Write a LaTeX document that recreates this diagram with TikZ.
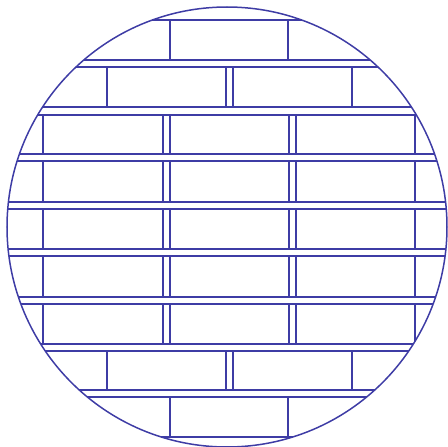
\documentclass[tikz,border=0pt]{standalone}
\begin{document}
\begin{tikzpicture}[x=1pt,y=-1pt,
  brick/.style={draw=bline,line width=1.5pt},
  rim/.style={draw=bline,line width=1.5pt}]
\definecolor{bline}{RGB}{62,60,165}
\useasboundingbox (0,0) rectangle (448,447);
\begin{scope}
\clip (227,227) circle (220);
% horizontal joints
\foreach \y in {20,60,67,107,115,154,161,202,209,249,256,297,304,344,351,390,397,437}
  \draw[brick] (0,\y) -- (448,\y);
% top and bottom rows
\foreach \a/\b in {20/60,397/437}
  \foreach \x in {170,288}
    \draw[brick] (\x,\a) -- (\x,\b);
% second rows
\foreach \a/\b in {67/107,351/390}
  \foreach \x in {107,226,233,352}
    \draw[brick] (\x,\a) -- (\x,\b);
% middle rows
\foreach \a/\b in {115/154,161/202,209/249,256/297,304/344}
  \foreach \x in {43,163,170,289,296,415}
    \draw[brick] (\x,\a) -- (\x,\b);
\end{scope}
\draw[rim] (227,227) circle (220);
\end{tikzpicture}
\end{document}
